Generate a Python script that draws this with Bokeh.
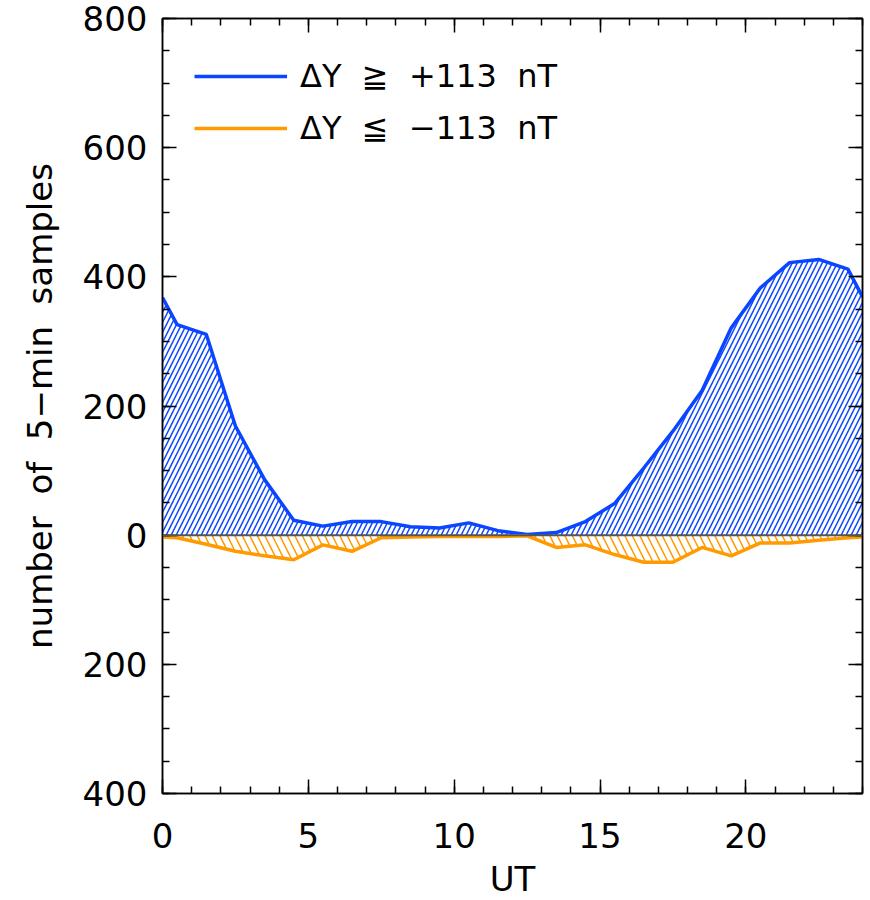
from bokeh.plotting import figure
from bokeh.models import (LinearAxis, FixedTicker, Legend, LegendItem, Span,
                          Range1d, ColumnDataSource)
from bokeh.embed import file_html
from bokeh.resources import INLINE

# ---- data ----
ut = [0, 0.5, 1.5, 2.5, 3.5, 4.5, 5.5, 6.5, 7.5, 8.5, 9.5, 10.5, 11.5, 12.5,
      13.5, 14.5, 15.5, 16.5, 17.5, 18.5, 19.5, 20.5, 21.5, 22.5, 23.5, 24]
pos_counts = [368, 326, 311, 169, 86, 23, 14, 21, 21, 13, 11, 19, 7, 1,
              4, 21, 49, 104, 161, 224, 321, 383, 422, 427, 412, 369]
neg_counts = [3, 4, 14, 25, 32, 38, 15, 25, 4, 3, 2, 2, 2, 1,
              19, 15, 30, 42, 42, 19, 32, 12, 12, 8, 4, 3]

x_range = (0, 24)
y_range = (-400, 800)
x_major = [0, 5, 10, 15, 20]
x_minor = list(range(0, 25))
y_major = [-400, -200, 0, 200, 400, 600, 800]
y_minor = list(range(-400, 801, 50))
y_labels = {-400: "400", -200: "200", 0: "0", 200: "200", 400: "400",
            600: "600", 800: "800"}

label_pos = "\u0394Y \u00a0\u2267 \u00a0+113 \u00a0nT"
label_neg = "\u0394Y \u00a0\u2266 \u00a0\u2212113 \u00a0nT"
ylabel = "number \u00a0of \u00a05\u2212min \u00a0samples"
xlabel = "UT"

BLUE = "#0a46ff"
ORANGE = "#ff9a00"
FONT = "DejaVu Sans"

src = ColumnDataSource(dict(ut=ut, pos=pos_counts,
                            neg=[-v for v in neg_counts]))

p = figure(frame_width=700, frame_height=775,
           x_range=Range1d(*x_range), y_range=Range1d(*y_range),
           output_backend="svg", toolbar_location=None,
           min_border_left=162, min_border_top=18, min_border_right=2,
           min_border_bottom=92,
           background_fill_color="white", border_fill_color="white",
           outline_line_color="black", outline_line_width=1.5)
p.xgrid.visible = False
p.ygrid.visible = False


def style_axis(ax, ticks, minor, show_labels):
    ax.ticker = FixedTicker(ticks=ticks, minor_ticks=minor)
    ax.major_tick_in = 14
    ax.major_tick_out = 0
    ax.minor_tick_in = 7
    ax.minor_tick_out = 0
    ax.major_tick_line_color = "black"
    ax.minor_tick_line_color = "black"
    ax.major_tick_line_width = 1.5
    ax.minor_tick_line_width = 1.5
    ax.axis_line_color = "black"
    ax.axis_line_width = 1.5
    if show_labels:
        ax.major_label_text_font = FONT
        ax.major_label_text_font_size = "34px"
        ax.major_label_text_color = "black"
        ax.axis_label_text_font = FONT
        ax.axis_label_text_font_size = "34px"
        ax.axis_label_text_font_style = "normal"
        ax.axis_label_text_color = "black"
    else:
        ax.major_label_text_font_size = "0px"
        ax.major_label_text_color = None
        ax.major_label_standoff = 0
        ax.axis_label = None


xa = p.xaxis[0]
style_axis(xa, x_major, x_minor, True)
xa.axis_label = xlabel
xa.major_label_standoff = 29
xa.axis_label_standoff = 8

ya = p.yaxis[0]
style_axis(ya, y_major, y_minor, True)
ya.axis_label = ylabel
ya.major_label_overrides = y_labels
ya.major_label_standoff = 15
ya.axis_label_standoff = 20
ya.axis_label_text_font_size = "34px"

top = LinearAxis()
style_axis(top, x_major, x_minor, False)
p.add_layout(top, "above")
right = LinearAxis()
style_axis(right, y_major, y_minor, False)
p.add_layout(right, "right")

# hatched areas
p.varea(x="ut", y1=0, y2="pos", source=src, fill_color=None,
        hatch_pattern="/", hatch_color=BLUE, hatch_scale=10, hatch_weight=1.5)
p.varea(x="ut", y1=0, y2="neg", source=src, fill_color=None,
        hatch_pattern="\\", hatch_color=ORANGE, hatch_scale=15,
        hatch_weight=1.5)

p.add_layout(Span(location=0, dimension="width", line_color="#555555",
                  line_width=2))

l_pos = p.line(x="ut", y="pos", source=src, line_color=BLUE, line_width=3.5)
l_neg = p.line(x="ut", y="neg", source=src, line_color=ORANGE, line_width=3.5)

legend = Legend(items=[LegendItem(label=label_pos, renderers=[l_pos]),
                       LegendItem(label=label_neg, renderers=[l_neg])],
                location="top_left", border_line_color=None,
                background_fill_alpha=0, glyph_width=93, glyph_height=52,
                label_height=52, spacing=0, padding=0, margin=32,
                label_standoff=13, label_text_font=FONT,
                label_text_font_size="32px", label_text_color="black")
p.add_layout(legend)

open("out.html", "w").write(file_html(p, INLINE))
